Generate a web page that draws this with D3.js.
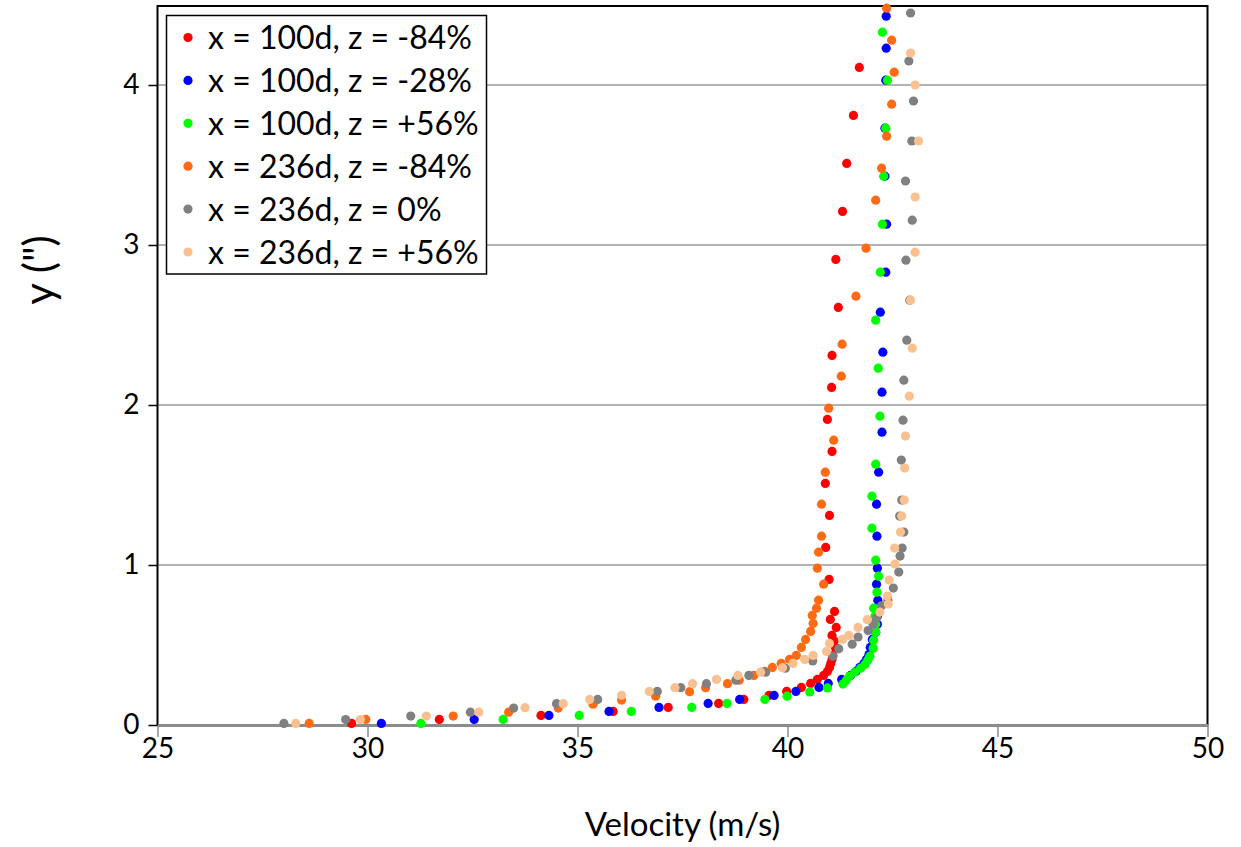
<!DOCTYPE html>
<html>
<head>
<meta charset="utf-8">
<script src="https://cdn.jsdelivr.net/npm/d3@7"></script>
<style>
  body { margin: 0; background: #fff; }
  svg { display: block; font-family: Lato, "Open Sans", sans-serif; }
</style>
</head>
<body>
<div id="chart"></div>
<script>
// series names and colours
const seriesNames = [
  'x = 100d, z = -84%',
  'x = 100d, z = -28%',
  'x = 100d, z = +56%',
  'x = 236d, z = -84%',
  'x = 236d, z = 0%',
  'x = 236d, z = +56%'
];
const seriesColors = ['#ff0000', '#0000ff', '#00ff00', '#ff6a13', '#808080', '#fac090'];

// [velocity (m/s), y (")]
const red = [
  [29.62, 0.01], [31.71, 0.035], [34.13, 0.06], [35.85, 0.085], [37.16, 0.11], [38.36, 0.135],
  [38.96, 0.16], [39.56, 0.185], [39.98, 0.21], [40.33, 0.235], [40.55, 0.26], [40.71, 0.285],
  [40.86, 0.31], [40.95, 0.335], [41.0, 0.36], [41.03, 0.385], [41.06, 0.41], [41.08, 0.435],
  [41.14, 0.485], [41.11, 0.525], [41.06, 0.56], [41.16, 0.61], [41.02, 0.66], [41.12, 0.71],
  [40.99, 0.91], [40.91, 1.11], [41.0, 1.31], [40.9, 1.51], [41.06, 1.71], [40.95, 1.91],
  [41.05, 2.11], [41.06, 2.31], [41.21, 2.61], [41.15, 2.91], [41.31, 3.21], [41.41, 3.51],
  [41.57, 3.81], [41.71, 4.11]
];
const blue = [
  [30.33, 0.01], [32.54, 0.035], [34.32, 0.06], [35.75, 0.085], [36.94, 0.11], [38.11, 0.135],
  [38.86, 0.16], [39.68, 0.185], [40.2, 0.21], [40.75, 0.235], [40.97, 0.26], [41.29, 0.285],
  [41.5, 0.31], [41.63, 0.335], [41.72, 0.36], [41.82, 0.385], [41.88, 0.41], [41.94, 0.44],
  [41.97, 0.485], [42.02, 0.535], [42.1, 0.58], [42.14, 0.63], [42.14, 0.68], [42.15, 0.78],
  [42.12, 0.88], [42.14, 0.98], [42.13, 1.18], [42.12, 1.38], [42.17, 1.58], [42.25, 1.83],
  [42.25, 2.08], [42.27, 2.33], [42.21, 2.58], [42.34, 2.83], [42.36, 3.13], [42.32, 3.43],
  [42.32, 3.73], [42.34, 4.03], [42.35, 4.23], [42.35, 4.43]
];
const green = [
  [31.27, 0.01], [33.23, 0.035], [35.04, 0.06], [36.28, 0.085], [37.72, 0.11], [38.56, 0.135],
  [39.46, 0.16], [39.99, 0.18], [40.53, 0.207], [40.95, 0.232], [41.32, 0.256], [41.4, 0.28],
  [41.48, 0.306], [41.6, 0.33], [41.74, 0.355], [41.85, 0.38], [41.91, 0.405], [41.96, 0.43],
  [42.04, 0.48], [42.05, 0.53], [42.1, 0.58], [42.1, 0.63], [42.08, 0.68], [42.05, 0.73],
  [42.13, 0.83], [42.17, 0.93], [42.1, 1.03], [42.01, 1.23], [42.01, 1.43], [42.1, 1.63],
  [42.2, 1.93], [42.16, 2.23], [42.1, 2.53], [42.21, 2.83], [42.26, 3.13], [42.29, 3.43],
  [42.34, 3.73], [42.38, 4.03], [42.26, 4.33]
];
const orange = [
  [28.61, 0.01], [29.96, 0.035], [32.04, 0.056], [33.36, 0.08], [34.54, 0.106], [35.37, 0.13],
  [36.05, 0.156], [36.86, 0.18], [37.67, 0.208], [38.05, 0.233], [38.57, 0.258], [38.85, 0.28],
  [39.2, 0.31], [39.45, 0.335], [39.64, 0.36], [39.85, 0.385], [40.05, 0.41], [40.21, 0.435],
  [40.33, 0.485], [40.43, 0.535], [40.55, 0.585], [40.61, 0.635], [40.59, 0.685], [40.69, 0.73],
  [40.74, 0.78], [40.86, 0.88], [40.71, 0.98], [40.74, 1.08], [40.81, 1.18], [40.81, 1.38],
  [40.9, 1.58], [41.1, 1.78], [40.98, 1.98], [41.28, 2.18], [41.3, 2.38], [41.63, 2.68],
  [41.87, 2.98], [42.1, 3.28], [42.24, 3.48], [42.36, 3.68], [42.48, 3.88], [42.54, 4.08],
  [42.48, 4.28], [42.36, 4.48]
];
const gray = [
  [28.01, 0.01], [29.48, 0.034], [31.03, 0.056], [32.45, 0.08], [33.48, 0.106], [34.5, 0.133],
  [35.48, 0.16], [36.9, 0.21], [37.46, 0.233], [38.07, 0.258], [38.77, 0.28], [39.08, 0.31],
  [39.48, 0.33], [39.95, 0.355], [40.6, 0.4], [41.08, 0.43], [41.22, 0.476], [41.54, 0.505],
  [41.68, 0.55], [41.92, 0.59], [42.04, 0.63], [42.12, 0.67], [42.24, 0.745], [42.39, 0.78],
  [42.52, 0.856], [42.65, 0.956], [42.68, 1.056], [42.73, 1.106], [42.77, 1.206], [42.67, 1.306],
  [42.72, 1.406], [42.71, 1.656], [42.75, 1.905], [42.77, 2.155], [42.84, 2.405], [42.91, 2.655],
  [42.82, 2.905], [42.97, 3.155], [42.81, 3.4], [42.96, 3.65], [43.0, 3.9], [42.89, 4.15],
  [42.93, 4.45]
];
const peach = [
  [28.29, 0.01], [29.83, 0.034], [31.4, 0.056], [32.65, 0.08], [33.75, 0.108], [34.66, 0.133],
  [35.29, 0.16], [36.05, 0.186], [36.71, 0.21], [37.32, 0.233], [37.74, 0.258], [38.31, 0.285],
  [38.82, 0.31], [39.36, 0.33], [39.88, 0.358], [40.13, 0.385], [40.41, 0.41], [40.61, 0.435],
  [40.93, 0.46], [41.0, 0.51], [41.31, 0.535], [41.46, 0.56], [41.68, 0.61], [41.9, 0.658],
  [42.2, 0.706], [42.4, 0.756], [42.38, 0.806], [42.42, 0.906], [42.56, 1.006], [42.55, 1.106],
  [42.69, 1.206], [42.72, 1.306], [42.78, 1.406], [42.79, 1.606], [42.81, 1.806], [42.9, 2.055],
  [42.97, 2.355], [42.93, 2.655], [43.04, 2.955], [43.04, 3.3], [43.12, 3.65], [43.04, 4.0],
  [42.93, 4.2]
];
const seriesData = [red, blue, green, orange, gray, peach];

const xTicks = [25, 30, 35, 40, 45, 50];
const yTicks = [0, 1, 2, 3, 4];
const xTitle = 'Velocity (m/s)';
const yTitle = 'y (")';

const W = 1241, H = 847;
const plot = { left: 157.5, right: 1207.5, top: 5, bottom: 725 };

const svg = d3.select('#chart').append('svg')
  .attr('width', W)
  .attr('height', H);

svg.append('rect').attr('width', W).attr('height', H).attr('fill', '#fff');

const x = d3.scaleLinear().domain([25, 50]).range([plot.left, plot.right]);
const y = d3.scaleLinear().domain([0, 4.5]).range([plot.bottom, plot.top]);

// gridlines
svg.append('g')
  .selectAll('line')
  .data(yTicks.filter(d => d > 0))
  .join('line')
  .attr('x1', plot.left).attr('x2', plot.right)
  .attr('y1', d => y(d)).attr('y2', d => y(d))
  .attr('stroke', '#9a9a9a')
  .attr('stroke-width', 1.5);

// plot border (top, left, right)
svg.append('path')
  .attr('d', `M${plot.left},${plot.bottom}V${y(4.5) + 1}H${plot.right}V${plot.bottom}`)
  .attr('fill', 'none')
  .attr('stroke', '#000')
  .attr('stroke-width', 2);

// x axis
const xAxis = d3.axisBottom(x).tickValues(xTicks).tickSize(12).tickSizeOuter(0).tickPadding(1);
const gx = svg.append('g')
  .attr('transform', `translate(0,${plot.bottom})`)
  .call(xAxis);
gx.select('.domain').attr('stroke', '#8c8c8c').attr('stroke-width', 3);
gx.selectAll('.tick line').attr('stroke', '#8c8c8c').attr('stroke-width', 1.5);
gx.selectAll('.tick text')
  .attr('fill', '#000')
  .style('font-size', '28px')
  .style('font-family', 'Lato, "Open Sans", sans-serif');

// y axis
const yAxis = d3.axisLeft(y).tickValues(yTicks).tickFormat(d3.format('d'))
  .tickSize(9).tickSizeOuter(0).tickPadding(9);
const gy = svg.append('g')
  .attr('transform', `translate(${plot.left},0)`)
  .call(yAxis);
gy.select('.domain').remove();
gy.selectAll('.tick line').attr('stroke', '#000').attr('stroke-width', 1.5);
gy.selectAll('.tick text')
  .attr('fill', '#000')
  .style('font-size', '28px')
  .style('font-family', 'Lato, "Open Sans", sans-serif');

// axis titles
svg.append('text')
  .attr('x', (plot.left + plot.right) / 2)
  .attr('y', 836)
  .attr('text-anchor', 'middle')
  .style('font-size', '33px')
  .text(xTitle);

svg.append('text')
  .attr('transform', `translate(54,270) rotate(-90)`)
  .attr('text-anchor', 'middle')
  .style('font-size', '42px')
  .text(yTitle);

// points
svg.append('clipPath').attr('id', 'clip')
  .append('rect')
  .attr('x', plot.left).attr('y', plot.top - 4)
  .attr('width', plot.right - plot.left).attr('height', plot.bottom - plot.top + 10);

const pts = svg.append('g').attr('clip-path', 'url(#clip)');
seriesData.forEach((data, i) => {
  pts.append('g')
    .selectAll('circle')
    .data(data)
    .join('circle')
    .attr('cx', d => x(d[0]))
    .attr('cy', d => y(d[1]))
    .attr('r', 4.6)
    .attr('fill', seriesColors[i]);
});

// legend
const legend = svg.append('g');
legend.append('rect')
  .attr('x', 166.5).attr('y', 15.5)
  .attr('width', 320).attr('height', 258.5)
  .attr('fill', '#fff')
  .attr('stroke', '#000')
  .attr('stroke-width', 1.5);

const rows = legend.selectAll('g.row')
  .data(seriesNames)
  .join('g')
  .attr('class', 'row')
  .attr('transform', (d, i) => `translate(188,${37.5 + i * 42.9})`);

rows.append('circle')
  .attr('r', 4.6)
  .attr('fill', (d, i) => seriesColors[i]);

rows.append('text')
  .attr('x', 20)
  .attr('dy', '0.36em')
  .style('font-size', '32px')
  .text(d => d);
</script>
</body>
</html>
